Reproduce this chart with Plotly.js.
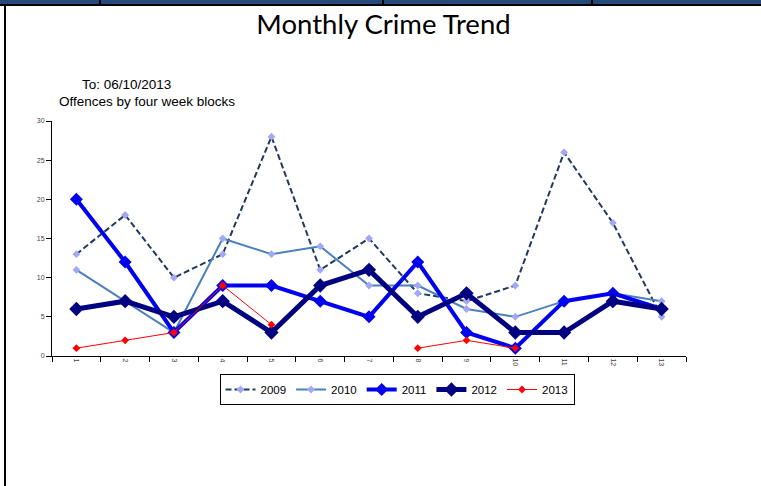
<!DOCTYPE html>
<html>
<head>
<meta charset="utf-8">
<script src="https://cdn.plot.ly/plotly-3.0.1.min.js"></script>
<style>
  html, body { margin: 0; padding: 0; background: #fff; }
  #wrap { position: relative; width: 761px; height: 486px; overflow: hidden; }
  #chart { position: absolute; left: 0; top: 0; width: 761px; height: 486px; }
  .bar { position: absolute; left: 0; top: 0; width: 761px; height: 4px; background: #24497B; }
  .bline { position: absolute; left: 0; top: 4px; width: 761px; height: 2px; background: #000; }
  .sep { position: absolute; top: 0; width: 2px; height: 6px; background: #000; }
  .lborder { position: absolute; left: 4px; top: 6px; width: 2px; height: 480px; background: #000; }
</style>
</head>
<body>
<div id="wrap">
  <div id="chart"></div>
  <div class="bar"></div>
  <div class="bline"></div>
  <div class="sep" style="left:99px"></div>
  <div class="sep" style="left:382px"></div>
  <div class="sep" style="left:591px"></div>
  <div class="lborder"></div>
</div>
<script>
const periods = ['1','2','3','4','5','6','7','8','9','10','11','12','13'];
const years = ['2009','2010','2011','2012','2013'];
const v2009 = [13, 18, 10, 13, 28, 11, 15, 8, 7, 9, 26, 17, 5];
const v2010 = [11, 7, 3, 15, 13, 14, 9, 9, 6, 5, 7, 8, 7];
const v2011 = [20, 12, 3, 9, 9, 7, 5, 12, 3, 1, 7, 8, 6];
const v2012 = [6, 7, 5, 7, 3, 9, 11, 5, 8, 3, 3, 7, 6];
const v2013 = [1, 2, 3, 9, 4, null, null, 1, 2, 1, null, null, null];
const yTicks = [0, 5, 10, 15, 20, 25, 30];

// plot area in pixels
const L = 52, R = 686, T = 121, B = 356;
const W = 761, H = 486;
const px = x => (x - L) / (R - L);
const py = y => (B - y) / (B - T);

const traces = [
  {x: periods, y: v2009, name: years[0], mode: 'lines+markers',
   line: {color: '#1F3A60', width: 2, dash: '6px,3px'},
   marker: {symbol: 'diamond', size: 6, color: '#A3A8F5'}},
  {x: periods, y: v2010, name: years[1], mode: 'lines+markers',
   line: {color: '#4A80BD', width: 2},
   marker: {symbol: 'diamond', size: 6, color: '#A3A8F5'}},
  {x: periods, y: v2011, name: years[2], mode: 'lines+markers',
   line: {color: '#0000F0', width: 4},
   marker: {symbol: 'diamond', size: 10, color: '#0000F0'}},
  {x: periods, y: v2012, name: years[3], mode: 'lines+markers',
   line: {color: '#000080', width: 5},
   marker: {symbol: 'diamond', size: 11, color: '#000080'}},
  {x: periods, y: v2013, name: years[4], mode: 'lines+markers',
   line: {color: '#FF0000', width: 1},
   marker: {symbol: 'diamond', size: 6, color: '#FF0000'}}
];

const layout = {
  width: W, height: H,
  margin: {l: L, r: W - R, t: T, b: H - B, pad: 0},
  paper_bgcolor: '#fff', plot_bgcolor: '#fff',
  showlegend: true,
  title: {text: 'Monthly Crime Trend', x: 383.5 / W, xanchor: 'center',
          xref: 'container', yref: 'container', y: 1 - 24 / H, yanchor: 'middle',
          font: {family: 'Lato, "Open Sans", sans-serif', size: 27.5, color: '#000'}},
  xaxis: {type: 'category', categoryorder: 'array', categoryarray: periods,
          range: [-0.5, 12.5], tickson: 'boundaries', ticks: 'outside', ticklen: 5,
          tickcolor: '#000', showline: true, linecolor: '#000', linewidth: 1,
          showgrid: false, zeroline: false, tickangle: 90,
          tickfont: {family: 'Liberation Sans, Arial, sans-serif', size: 7, color: '#444'},
          fixedrange: true},
  yaxis: {range: [0, 30], tickvals: yTicks, ticktext: yTicks.map(String),
          ticks: 'outside', ticklen: 5, tickcolor: '#000',
          showline: true, linecolor: '#000', linewidth: 1,
          showgrid: false, zeroline: false,
          tickfont: {family: 'Liberation Sans, Arial, sans-serif', size: 7, color: '#444'},
          fixedrange: true},
  legend: {orientation: 'h', x: px(397), xanchor: 'center', y: py(374), yanchor: 'top',
           bordercolor: '#000', borderwidth: 1, bgcolor: '#fff',
           font: {family: 'Liberation Sans, Arial, sans-serif', size: 11.5, color: '#000'},
           itemwidth: 30, tracegroupgap: 0},
  annotations: [
    {text: 'To: 06/10/2013', xref: 'paper', yref: 'paper', x: px(126.5), y: py(84),
     xanchor: 'center', yanchor: 'middle', showarrow: false,
     font: {family: 'Liberation Sans, Arial, sans-serif', size: 13.5, color: '#000'}},
    {text: 'Offences by four week blocks', xref: 'paper', yref: 'paper', x: px(147), y: py(101),
     xanchor: 'center', yanchor: 'middle', showarrow: false,
     font: {family: 'Liberation Sans, Arial, sans-serif', size: 13.5, color: '#000'}}
  ]
};

Plotly.newPlot('chart', traces, layout, {displayModeBar: false, staticPlot: true});
</script>
</body>
</html>
